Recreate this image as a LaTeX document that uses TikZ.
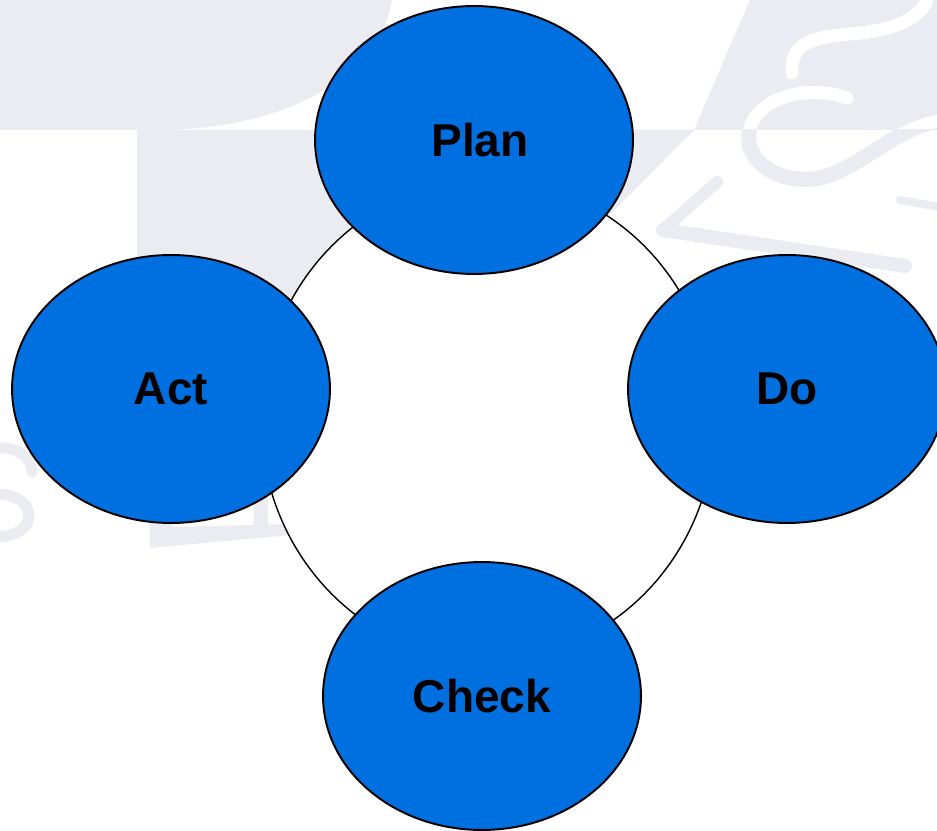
\documentclass[tikz,border=0pt]{standalone}
\usepackage{fontspec}
\setmainfont{Liberation Sans}
\usetikzlibrary{shapes.geometric}

\definecolor{pdcablue}{RGB}{0,112,224}
\definecolor{wmgray}{RGB}{235,235,242}

\tikzset{
    phase/.style={ellipse, draw=black, line width=1.1pt, fill=pdcablue,
        minimum width=6.36cm, minimum height=5.36cm, inner sep=0pt,
        font=\fontsize{26.2}{30}\selectfont\bfseries},
    ring/.style={ellipse, draw=black, line width=0.8pt, fill=white,
        minimum width=9.08cm, minimum height=9.6cm, inner sep=0pt},
    wmstroke/.style={wmgray, line cap=round},
}

\begin{document}
\begin{tikzpicture}[x=0.02cm, y=-0.02cm]
        \def\width{937}
        \def\height{831}

        \useasboundingbox (0,0) rectangle (\width,\height);
        \clip (0,0) rectangle (\width,\height);
        \fill[white] (0,0) rectangle (\width,\height);

        \coordinate (C) at (488,420);

        % watermark: band at the top and block below it
        \fill[wmgray] (0,0) -- (392,0) .. controls (380,70) and (300,125) .. (170,130) -- (0,130) -- cycle;
        \fill[wmgray] (750,0) -- (\width,0) -- (\width,130) -- (694,130) -- cycle;
        \fill[wmgray] (137,130) -- (694,130) -- (560,265) -- (560,440) -- (137,440) -- cycle;

        % swirl: white on the band
        \begin{scope}
            \clip (0,0) rectangle (\width,130);
            \draw[white, line width=13*0.02cm, line cap=round]
                (792,73) .. controls (790,45) and (810,37) .. (850,34)
                .. controls (890,31) and (920,20) .. (927,0);
            \draw[white, line width=13*0.02cm, line cap=round]
                (847,98) .. controls (810,85) and (760,95) .. (750,128)
                .. controls (740,165) and (790,190) .. (830,175)
                .. controls (870,160) and (900,125) .. (945,120);
        \end{scope}

        % swirl: grey below the band
        \begin{scope}
            \clip (0,130) rectangle (\width,\height);
            \draw[wmstroke, line width=15*0.02cm]
                (847,98) .. controls (810,85) and (760,95) .. (750,128)
                .. controls (740,165) and (790,190) .. (830,175)
                .. controls (870,160) and (900,125) .. (945,120);
        \end{scope}

        % letters
        \draw[wmstroke, line width=8*0.02cm] (900,200) -- (945,208);
        \draw[wmstroke, line width=14*0.02cm] (663,230) -- (905,266);
        \draw[wmstroke, line width=12*0.02cm] (663,230) -- (717,182);
        \draw[wmstroke, line width=11*0.02cm]
            (-5,448) .. controls (18,446) and (32,458) .. (32,472);
        \draw[wmstroke, line width=11*0.02cm]
            (-5,494) .. controls (22,494) and (32,508) .. (28,521)
            .. controls (24,532) and (10,537) .. (-5,537);
        \fill[wmgray] (150,445) -- (172,445) -- (172,527) -- (290,524) -- (290,535) -- (150,548) -- cycle;
        \fill[wmgray] (254,497) rectangle (268,527);

        % cycle ring
        \node[ring] (cycle) at (C) {};

        % phases
        \node[phase] (plan) at (474,140) {\hspace*{0.24cm}Plan};
        \node[phase] (do) at (787,389) {Do};
        \node[phase] (check) at (482,696) {Check};
        \node[phase] (act) at (171,389) {Act};
    \end{tikzpicture}
\end{document}
